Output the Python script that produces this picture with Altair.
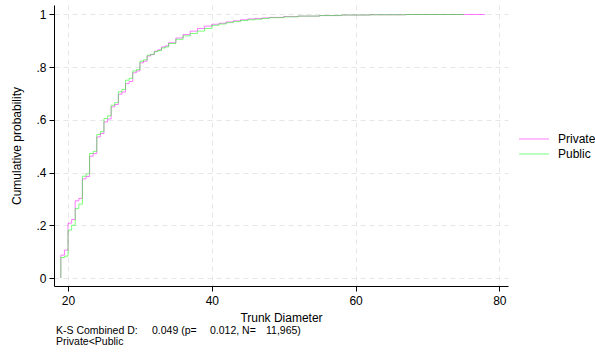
import altair as alt
import pandas as pd

# ---- data (ECDF step points) ----
private_x = [19, 19, 19.5, 20, 20.5, 21, 21.5, 22, 22.5, 23, 23.5, 24, 24.5, 25, 25.5,
             26, 26.5, 27, 27.5, 28, 28.5, 29, 29.5, 30, 30.5, 31, 31.5, 32, 32.5,
             33, 33.5, 34, 35, 36, 37, 38, 39, 40, 41, 42, 43, 44, 45, 46, 47, 48,
             50, 52, 55, 58, 62, 67, 78]
private_p = [0.0, 0.087, 0.106, 0.208, 0.222, 0.293, 0.302, 0.376, 0.385, 0.462, 0.472,
             0.535, 0.548, 0.592, 0.603, 0.649, 0.658, 0.697, 0.705, 0.737, 0.745,
             0.778, 0.785, 0.816, 0.822, 0.842, 0.847, 0.860, 0.865, 0.876, 0.880,
             0.892, 0.910, 0.923, 0.936, 0.946, 0.955, 0.962, 0.966, 0.971, 0.975,
             0.979, 0.982, 0.984, 0.986, 0.988, 0.991, 0.993, 0.995, 0.997, 0.998,
             0.999, 1.0]

public_x = [19, 19, 19.5, 20, 20.5, 21, 21.5, 22, 22.5, 23, 23.5, 24, 24.5, 25, 25.5,
            26, 26.5, 27, 27.5, 28, 28.5, 29, 29.5, 30, 30.5, 31, 31.5, 32, 32.5,
            33, 33.5, 34, 35, 36, 37, 38, 39, 40, 41, 42, 43, 44, 45, 46, 47, 48,
            50, 52, 55, 58, 62, 67, 75]
public_p = [0.0, 0.078, 0.083, 0.182, 0.200, 0.264, 0.280, 0.386, 0.395, 0.472, 0.480,
            0.544, 0.555, 0.605, 0.615, 0.655, 0.665, 0.706, 0.715, 0.750, 0.757,
            0.785, 0.790, 0.822, 0.827, 0.845, 0.848, 0.858, 0.862, 0.872, 0.876,
            0.889, 0.905, 0.918, 0.927, 0.936, 0.946, 0.958, 0.963, 0.968, 0.972,
            0.976, 0.979, 0.981, 0.984, 0.987, 0.990, 0.993, 0.995, 0.997, 0.998,
            0.999, 1.0]

groups = ["Private", "Public"]
colors = ["#ff00ff", "#00ff00"]
x_ticks = [20, 40, 60, 80]
y_ticks = [0, 0.2, 0.4, 0.6, 0.8, 1.0]
x_title = "Trunk Diameter"
y_title = "Cumulative probability"
note_parts = ["K-S Combined D:", "0.049 (p=", "0.012, N=", "11,965)"]
note_line2 = "Private<Public"

FONT = "Liberation Sans"

df = pd.concat([
    pd.DataFrame({"x": private_x, "p": private_p, "g": groups[0], "o": range(len(private_x))}),
    pd.DataFrame({"x": public_x, "p": public_p, "g": groups[1], "o": range(len(public_x))}),
])

lines = alt.Chart(df).mark_line(
    interpolate="step-after", strokeWidth=1, opacity=0.5
).encode(
    x=alt.X("x:Q", scale=alt.Scale(domain=[18.05, 81.2], nice=False, zero=False),
            axis=alt.Axis(values=x_ticks, title=x_title, format="d")),
    y=alt.Y("p:Q", scale=alt.Scale(domain=[-0.03, 1.035], nice=False, zero=False),
            axis=alt.Axis(values=y_ticks, title=y_title, labelAngle=0,
                          labelExpr="datum.value == 0 ? '0' : datum.value == 1 ? '1' : replace(format(datum.value, '.1f'), '0.', '.')")),
    color=alt.Color("g:N", scale=alt.Scale(domain=groups, range=colors),
                    legend=alt.Legend(title=None, orient="none", legendX=474, legendY=128,
                                      symbolType="M-3,0H3", symbolSize=100,
                                      symbolStrokeWidth=1, symbolOpacity=0.5,
                                      labelFontSize=12, labelFont=FONT, labelColor="#000",
                                      labelOffset=18, rowPadding=3, padding=0)),
    order="o:Q",
)

note_x = [2, 98, 156, 212]
notes = [
    alt.Chart(pd.DataFrame({"t": [note_parts[i]]})).mark_text(
        align="left", baseline="middle", font=FONT, fontSize=10.5, color="#000"
    ).encode(x=alt.value(note_x[i]), y=alt.value(326), text="t:N")
    for i in range(len(note_parts))
]
note2 = alt.Chart(pd.DataFrame({"t": [note_line2]})).mark_text(
    align="left", baseline="middle", font=FONT, fontSize=10.5, color="#000"
).encode(x=alt.value(2), y=alt.value(337), text="t:N")

chart = alt.layer(lines, *notes, note2).properties(
    width=454, height=281,
    autosize=alt.AutoSizeParams(type="none"),
    padding={"left": 54, "top": 5, "right": 87, "bottom": 70},
    background="white",
).configure_view(stroke=None).configure_axis(
    labelFont=FONT, titleFont=FONT, labelFontSize=12, titleFontSize=12,
    labelColor="#000", titleColor="#000", titleFontWeight="normal",
    domainColor="#000", tickColor="#000", tickSize=5, domainWidth=1,
    grid=True, gridDash=[5, 4], gridColor="#e6e6e6", gridWidth=1,
).configure_axisX(
    labelPadding=4, titlePadding=6,
).configure_axisY(
    labelPadding=3, titlePadding=12,
)

chart.save("out.html", embed_options={"renderer": "svg", "actions": False})
